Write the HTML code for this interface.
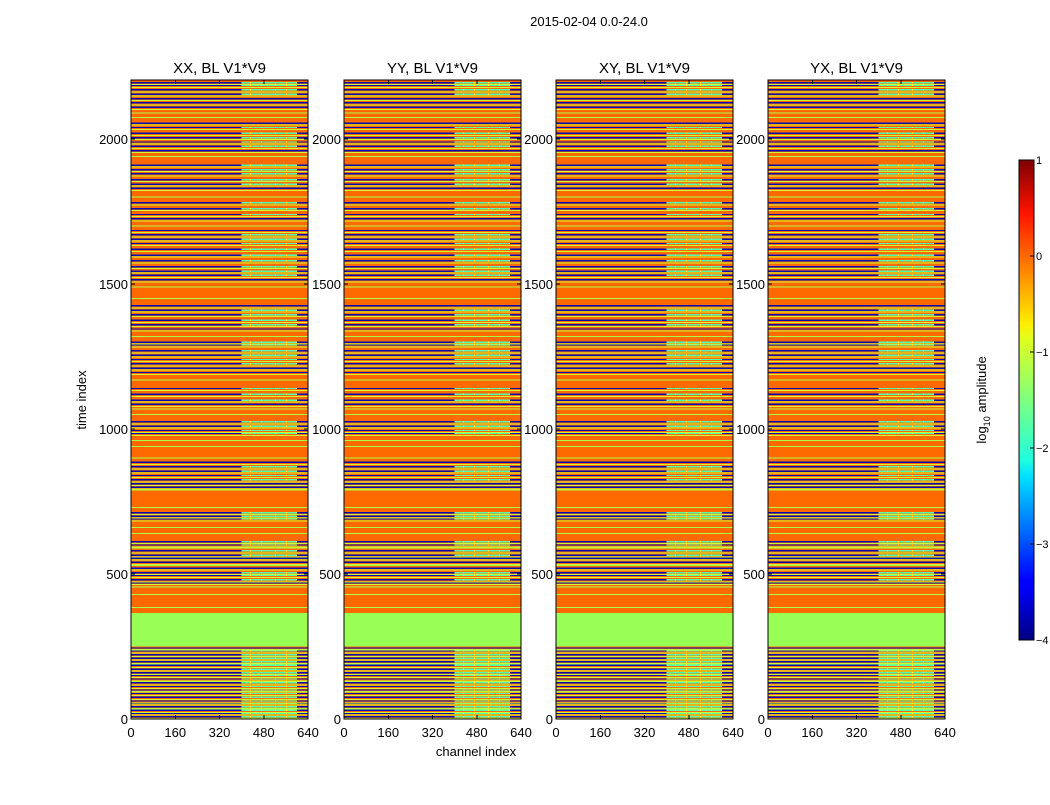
<!DOCTYPE html>
<html><head><meta charset="utf-8"><style>
body{margin:0;background:#fff;font-family:"Liberation Sans",sans-serif}
</style></head><body>
<svg id="fig" width="1050" height="800" xmlns="http://www.w3.org/2000/svg" font-family="Liberation Sans, sans-serif">
<defs>
<linearGradient id="jet" x1="0" y1="1" x2="0" y2="0">
<stop offset="0" stop-color="#00007f"/><stop offset="0.11" stop-color="#0000ff"/><stop offset="0.125" stop-color="#0000ff"/><stop offset="0.34" stop-color="#00dfff"/><stop offset="0.375" stop-color="#1fffdf"/><stop offset="0.5" stop-color="#7fff7f"/><stop offset="0.625" stop-color="#dfff1f"/><stop offset="0.66" stop-color="#ffee00"/><stop offset="0.89" stop-color="#ff1300"/><stop offset="1" stop-color="#7f0000"/>
</linearGradient>
</defs>
<text x="589" y="26" font-size="13" text-anchor="middle">2015-02-04 0.0-24.0</text>
<g id="panels" shape-rendering="crispEdges"></g>
<text transform="translate(86,400) rotate(-90)" font-size="13" text-anchor="middle">time index</text>
<text x="476" y="756" font-size="13" text-anchor="middle">channel index</text>
<g>
<rect x="1019" y="160" width="15" height="480" fill="url(#jet)" stroke="#000" stroke-width="1"/>
<g id="cbticks"></g>
<text transform="translate(986,400) rotate(-90)" font-size="13" text-anchor="middle">log<tspan font-size="9" dy="4">10</tspan><tspan dy="-4"> amplitude</tspan></text>
</g>
</svg>
<script>
const titles=["XX, BL V1*V9","YY, BL V1*V9","XY, BL V1*V9","YX, BL V1*V9"];
const xTicks=[0,160,320,480,640];
const yTicks=[0,500,1000,1500,2000];
const cbTicks=[-4,-3,-2,-1,0,1];
const greenBands=[[250,365]];
const blueRows=[8,20,30,42,55,62,75,88,100,112,125,138,150,160,172,185,198,210,222,235,245,470,480,495,505,520,540,555,565,580,600,612,690,700,712,800,812,825,840,855,870,885,985,995,1010,1025,1085,1100,1120,1140,1195,1210,1225,1240,1255,1270,1290,1300,1345,1360,1375,1395,1410,1425,1515,1530,1545,1560,1580,1600,1620,1640,1655,1670,1685,1725,1740,1760,1780,1830,1845,1860,1880,1895,1910,1960,1975,1990,2005,2020,2040,2055,2110,2125,2140,2155,2170,2185,2195];
const greenRows=[14,36,68,95,130,165,190,215,240,385,430,455,530,590,640,660,730,790,900,940,960,1050,1070,1170,1320,1450,1490,1700,1800,1940,2075,2090];
const patchRanges=[[0,240],[480,510],[560,580],[600,615],[690,715],[820,880],[980,1030],[1090,1140],[1220,1300],[1350,1420],[1520,1680],[1730,1780],[1840,1910],[1965,2050],[2150,2195]];
const panelX=[131,344,556,768];
const PW=177, PT=80, PB=719, TMAX=2204, CMAX=640;
const NS="http://www.w3.org/2000/svg";
function mk(tag,attrs,parent){const e=document.createElementNS(NS,tag);for(const k in attrs)e.setAttribute(k,attrs[k]);parent.appendChild(e);return e;}
const panels=document.getElementById('panels');
panelX.forEach((x0,pi)=>{
  const xs=c=>x0+c/CMAX*PW;
  const ys=t=>PB-t/TMAX*(PB-PT);
  const g=mk('g',{},panels);
  
  
  const bg=mk('rect',{x:x0,y:PT,width:PW,height:PB-PT,fill:'#ff6a00'},g);
  
  
  greenBands.forEach(b=>{
    const r=mk('rect',{x:x0,y:ys(b[1]),width:PW,height:ys(b[0])-ys(b[1]),fill:'#99ff55'},g);
    
    
  });
  greenRows.forEach(t=>{
    const r=mk('rect',{x:x0,y:ys(t)-0.5,width:PW,height:1,fill:'#aaff4d'},g);
    
    
  });
  blueRows.forEach(t=>{
    const r=mk('rect',{x:x0,y:ys(t)-0.7,width:PW,height:1.4,fill:'#0010b0'},g);
    
    
    const r2=mk('rect',{x:x0,y:ys(t)+1.5,width:PW,height:1,fill:'#cfff30'},g);
    
    
    const inPatch=patchRanges.some(p=>t>=p[0]&&t<=p[1]);
    if(inPatch){
      const p=mk('rect',{x:xs(400),y:ys(t)-0.7,width:xs(600)-xs(400),height:1.4,fill:'#50ffb0'},g);
      
      
      [430,470,520,560].forEach(c=>{
        const s=mk('rect',{x:xs(c),y:ys(t)-0.7,width:1.2,height:1.4,fill:'#ffff40'},g);
        
        
      });
    }
  });
  const fr=mk('rect',{x:x0,y:PT,width:PW,height:PB-PT,fill:'none',stroke:'#000','stroke-width':1},g);
  
  
  const tt=mk('text',{x:x0+PW/2,y:73,'font-size':15,'text-anchor':'middle'},g);
  tt.textContent=titles[pi];
  
  
  xTicks.forEach(c=>{
    mk('line',{x1:xs(c),x2:xs(c),y1:PB,y2:PB-4,stroke:'#000'},g);
    mk('line',{x1:xs(c),x2:xs(c),y1:PT,y2:PT+4,stroke:'#000'},g);
    const l=mk('text',{x:xs(c),y:737,'font-size':13,'text-anchor':'middle'},g);
    l.textContent=c;
    
    
  });
  yTicks.forEach(t=>{
    mk('line',{x1:x0,x2:x0+4,y1:ys(t),y2:ys(t),stroke:'#000'},g);
    mk('line',{x1:x0+PW,x2:x0+PW-4,y1:ys(t),y2:ys(t),stroke:'#000'},g);
    const l=mk('text',{x:x0-3,y:ys(t)+5,'font-size':13,'text-anchor':'end'},g);
    l.textContent=t;
    
    
  });
});
const cbt=document.getElementById('cbticks');
cbTicks.forEach(v=>{
  const y=640-(v+4)/5*480;
  mk('line',{x1:1030,x2:1034,y1:y,y2:y,stroke:'#000'},cbt);
  const l=mk('text',{x:1036,y:y+4,'font-size':11},cbt);
  l.textContent=v<0?'\u2212'+(-v):v;
  
  
});
</script>
</body></html>
